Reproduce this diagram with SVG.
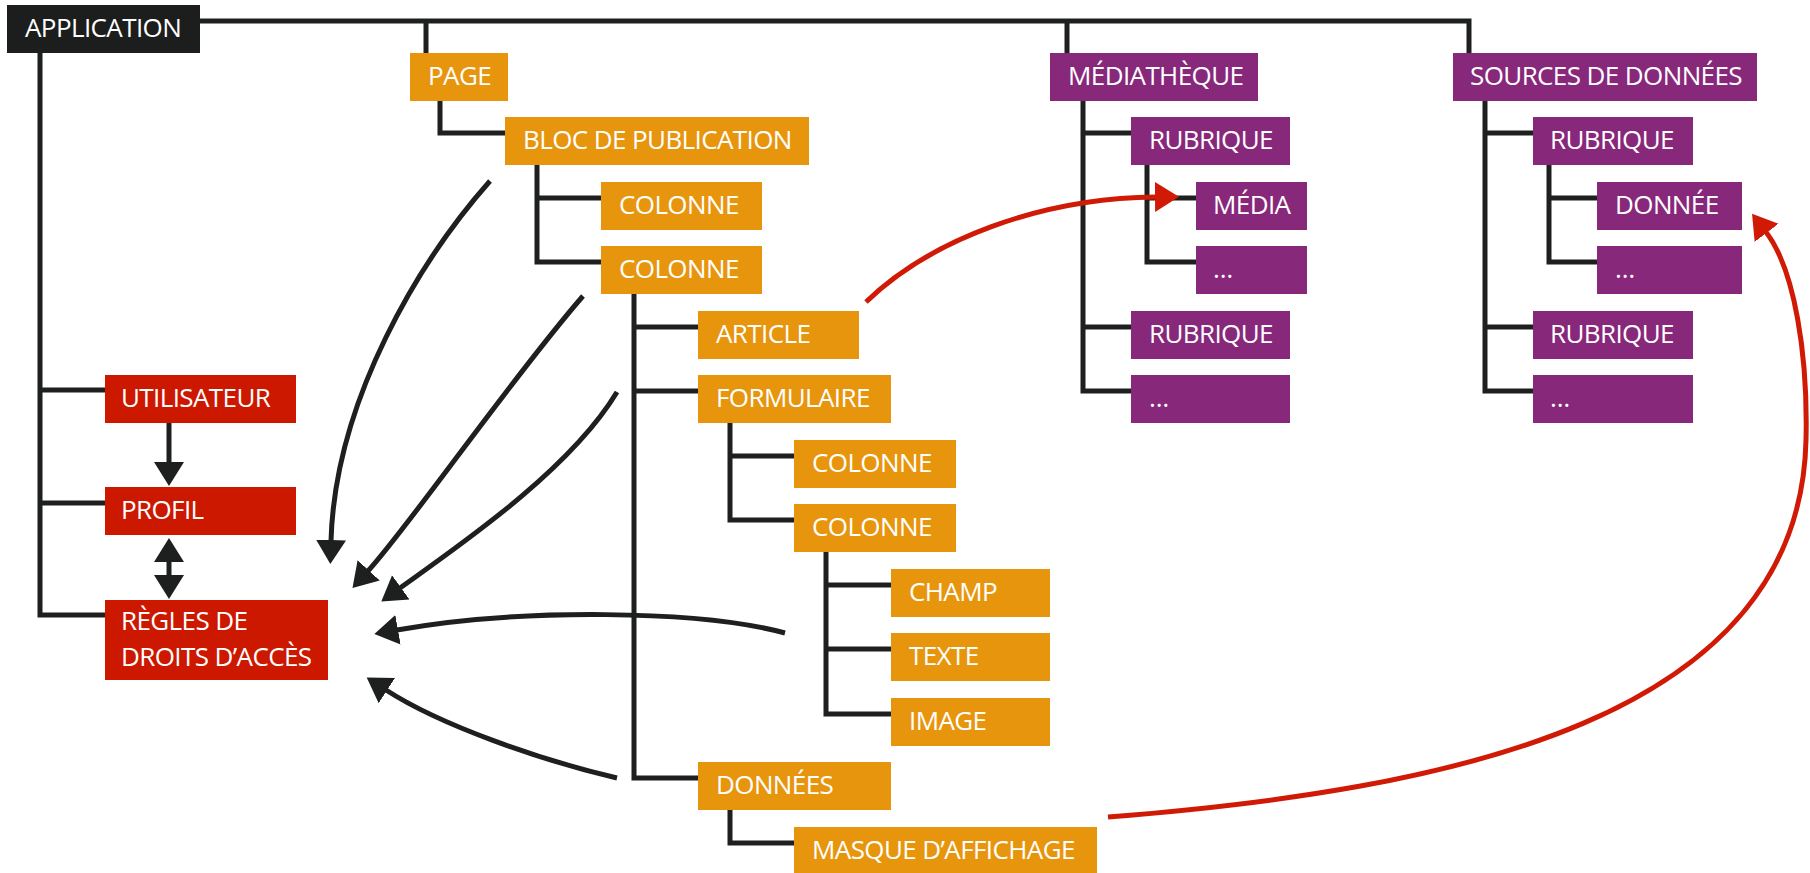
<svg xmlns="http://www.w3.org/2000/svg" width="1810" height="873" viewBox="0 0 1810 873">
<style>
text{font-family:"Open Sans","Noto Sans","DejaVu Sans",sans-serif;font-size:26px;letter-spacing:-0.6px;fill:#ffffff}
.k{fill:#1b1e1d}
.o{fill:#e8950e}
.p{fill:#87287b}
.r{fill:#cd1800}
.tree{fill:none;stroke:#1d201f;stroke-width:5}
.arr{fill:none;stroke:#1d201f;stroke-width:5}
.rarr{fill:none;stroke:#d11a06;stroke-width:5}
</style>
<defs>
<marker id="ah" markerUnits="userSpaceOnUse" markerWidth="28" markerHeight="34" viewBox="0 -17 28 34" refX="1" refY="0" orient="auto-start-reverse"><path d="M0,-15 L24,0 L0,15 Z" fill="#1d201f"/></marker>
<marker id="rah" markerUnits="userSpaceOnUse" markerWidth="28" markerHeight="34" viewBox="0 -17 28 34" refX="1" refY="0" orient="auto"><path d="M0,-15 L24,0 L0,15 Z" fill="#d11a06"/></marker>
</defs>

<g id="connectors">
<path class="tree" d="M200,21 H1469 V53 M426,21 V53 M1067,21 V53"/>
<path class="tree" d="M40,53 V615 H105 M40,390 H105 M40,503 H105"/>
<path class="tree" d="M440,101 V133 H505"/>
<path class="tree" d="M537,165 V262 H601 M537,198 H601"/>
<path class="tree" d="M634,294 V778 H698 M634,327 H698 M634,391 H698"/>
<path class="tree" d="M730,423 V520 H794 M730,456 H794"/>
<path class="tree" d="M826,552 V714 H891 M826,585 H891 M826,649 H891"/>
<path class="tree" d="M730,810 V843 H794"/>
<path class="tree" d="M1083,101 V391 H1131 M1083,133 H1131 M1083,327 H1131"/>
<path class="tree" d="M1147,165 V262 H1196 M1147,198 H1196"/>
<path class="tree" d="M1485,101 V391 H1533 M1485,133 H1533 M1485,327 H1533"/>
<path class="tree" d="M1549,165 V262 H1597 M1549,198 H1597"/>
<path class="arr" d="M169,423 V463" marker-end="url(#ah)"/>
<path class="arr" d="M169,561 V576" marker-start="url(#ah)" marker-end="url(#ah)"/>
<path class="arr" d="M490,181 C420,260 335,400 331,541" marker-end="url(#ah)"/>
<path class="arr" d="M583,296 C510,380 410,525 368,571" marker-end="url(#ah)"/>
<path class="arr" d="M617,392 C570,470 460,545 400,588" marker-end="url(#ah)"/>
<path class="arr" d="M785,633 C700,610 520,608 397,630" marker-end="url(#ah)"/>
<path class="arr" d="M617,778 C540,760 440,725 386,690" marker-end="url(#ah)"/>
<path class="rarr" d="M866,302 C930,240 1040,198 1156,197" marker-end="url(#rah)"/>
<path class="rarr" d="M1108,817 C1450,790 1800,720 1806,440 C1808,356 1795,270 1766,232" marker-end="url(#rah)"/>
</g>

<g id="application"><rect class="k" x="7" y="5" width="193" height="48"/><text x="25" y="37">APPLICATION</text></g>
<g id="page"><rect class="o" x="410" y="53" width="98" height="48"/><text x="428" y="85">PAGE</text></g>
<g id="bloc"><rect class="o" x="505" y="117" width="304" height="48"/><text x="523" y="149">BLOC DE PUBLICATION</text></g>
<g id="colonne1"><rect class="o" x="601" y="182" width="161" height="48"/><text x="619" y="214">COLONNE</text></g>
<g id="colonne2"><rect class="o" x="601" y="246" width="161" height="48"/><text x="619" y="278">COLONNE</text></g>
<g id="article"><rect class="o" x="698" y="311" width="161" height="48"/><text x="716" y="343">ARTICLE</text></g>
<g id="formulaire"><rect class="o" x="698" y="375" width="193" height="48"/><text x="716" y="407">FORMULAIRE</text></g>
<g id="colonne3"><rect class="o" x="794" y="440" width="162" height="48"/><text x="812" y="472">COLONNE</text></g>
<g id="colonne4"><rect class="o" x="794" y="504" width="162" height="48"/><text x="812" y="536">COLONNE</text></g>
<g id="champ"><rect class="o" x="891" y="569" width="159" height="48"/><text x="909" y="601">CHAMP</text></g>
<g id="texte"><rect class="o" x="891" y="633" width="159" height="48"/><text x="909" y="665">TEXTE</text></g>
<g id="image"><rect class="o" x="891" y="698" width="159" height="48"/><text x="909" y="730">IMAGE</text></g>
<g id="donnees"><rect class="o" x="698" y="762" width="193" height="48"/><text x="716" y="794">DONNÉES</text></g>
<g id="masque"><rect class="o" x="794" y="827" width="303" height="48"/><text x="812" y="859">MASQUE D’AFFICHAGE</text></g>

<g id="utilisateur"><rect class="r" x="105" y="375" width="191" height="48"/><text x="121" y="407">UTILISATEUR</text></g>
<g id="profil"><rect class="r" x="105" y="487" width="191" height="48"/><text x="121" y="519">PROFIL</text></g>
<g id="regles"><rect class="r" x="105" y="600" width="223" height="80"/><text x="121" y="630">RÈGLES DE</text><text x="121" y="666">DROITS D’ACCÈS</text></g>

<g id="mediatheque"><rect class="p" x="1050" y="53" width="208" height="48"/><text x="1068" y="85">MÉDIATHÈQUE</text></g>
<g id="m-rubrique1"><rect class="p" x="1131" y="117" width="159" height="48"/><text x="1149" y="149">RUBRIQUE</text></g>
<g id="media"><rect class="p" x="1196" y="182" width="111" height="48"/><text x="1213" y="214">MÉDIA</text></g>
<g id="m-etc1"><rect class="p" x="1196" y="246" width="111" height="48"/><text x="1213" y="278">…</text></g>
<g id="m-rubrique2"><rect class="p" x="1131" y="311" width="159" height="48"/><text x="1149" y="343">RUBRIQUE</text></g>
<g id="m-etc2"><rect class="p" x="1131" y="375" width="159" height="48"/><text x="1149" y="407">…</text></g>

<g id="sources"><rect class="p" x="1453" y="53" width="304" height="48"/><text x="1470" y="85">SOURCES DE DONNÉES</text></g>
<g id="s-rubrique1"><rect class="p" x="1533" y="117" width="160" height="48"/><text x="1550" y="149">RUBRIQUE</text></g>
<g id="donnee"><rect class="p" x="1597" y="182" width="145" height="48"/><text x="1615" y="214">DONNÉE</text></g>
<g id="s-etc1"><rect class="p" x="1597" y="246" width="145" height="48"/><text x="1615" y="278">…</text></g>
<g id="s-rubrique2"><rect class="p" x="1533" y="311" width="160" height="48"/><text x="1550" y="343">RUBRIQUE</text></g>
<g id="s-etc2"><rect class="p" x="1533" y="375" width="160" height="48"/><text x="1550" y="407">…</text></g>
</svg>
